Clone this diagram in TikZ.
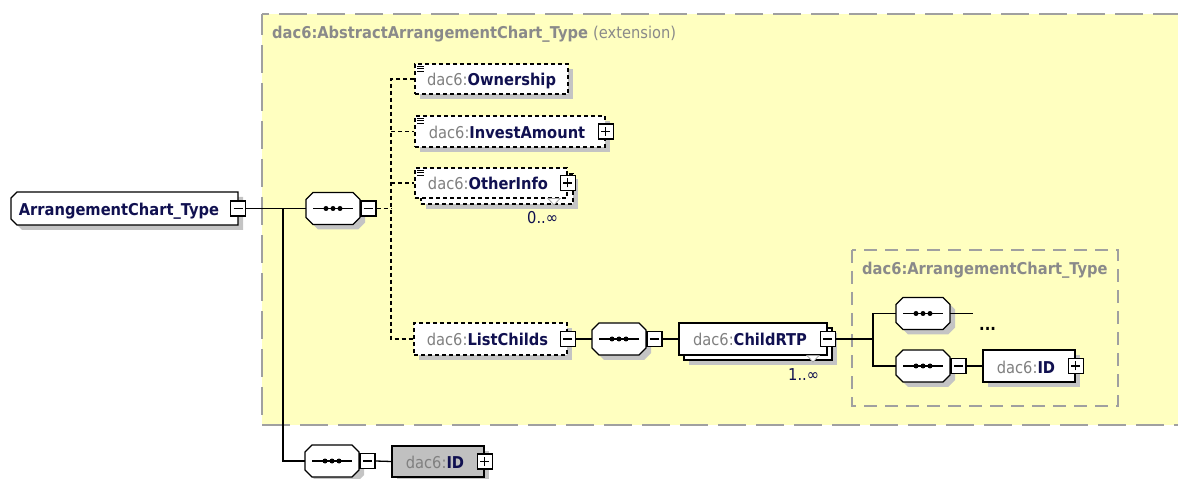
\documentclass[tikz,border=0pt]{standalone}
\usepackage{fontspec}
\setmainfont{DejaVu Sans}[FakeStretch=0.9]
\usetikzlibrary{shadows,calc}
\definecolor{yel}{HTML}{FFFFC0}
\definecolor{bordc}{HTML}{A0A0A0}
\definecolor{shadowc}{HTML}{C4C4C4}
\definecolor{prec}{HTML}{808080}
\definecolor{namec}{HTML}{101050}
\definecolor{titc}{HTML}{8A8A8A}
\definecolor{idgray}{HTML}{C0C0C0}
\newcommand\pre[1]{{\color{prec}#1}}
\newcommand\nm[1]{{\color{namec}\bfseries #1}}
\newcommand\seqnode[3]{%
  \begin{scope}[shift={(#2,#3)}]
    \fill[shadowc,shift={(5,5)}] (-20,-16) -- (20,-16) -- (27,-9) -- (27,9) -- (20,16) -- (-20,16) -- (-27,9) -- (-27,-9) -- cycle;
    \draw[fill=white,line width=1.3bp] (-20,-16) -- (20,-16) -- (27,-9) -- (27,9) -- (20,16) -- (-20,16) -- (-27,9) -- (-27,-9) -- cycle;
    \draw[line width=1.3bp] (-20,0) -- (20,0);
    \fill (-7,0) circle[radius=2.5bp] (0,0) circle[radius=2.5bp] (7,0) circle[radius=2.5bp];
    \node[seqbox] (#1) at (0,0) {};
  \end{scope}}
\begin{document}
\begin{tikzpicture}[x=1bp,y=-1bp,font=\fontsize{16.3bp}{19bp}\selectfont,
  elem/.style={rectangle, draw=black, fill=white, inner sep=0pt, line width=1.3bp, text height=14bp, text depth=0bp},
  shad/.style={general shadow={fill=shadowc, shadow xshift=5bp, shadow yshift=-5bp}},
  dsh/.style={dash pattern=on 4bp off 3bp},
  pmbox/.style={rectangle, draw=black, fill=white, line width=1.3bp, minimum size=15bp, inner sep=0pt},
  minusb/.style={pmbox, path picture={\draw[line width=1.3bp] ([xshift=-4.5bp]path picture bounding box.center) -- ([xshift=4.5bp]path picture bounding box.center);}},
  plusb/.style={pmbox, path picture={\draw[line width=1.3bp] ([xshift=-4.5bp]path picture bounding box.center) -- ([xshift=4.5bp]path picture bounding box.center) ([yshift=-4.5bp]path picture bounding box.center) -- ([yshift=4.5bp]path picture bounding box.center);}},
  seqbox/.style={rectangle, minimum width=54bp, minimum height=32bp, inner sep=0pt},
  conn/.style={line width=1.3bp, draw=black},
  lbl/.style={anchor=base west, inner sep=0pt},
  marker/.style={draw=gray!70, fill=white, line width=0.8bp}]
\useasboundingbox (0,0) rectangle (1178,479);
% extension area
\draw[draw=bordc, line width=2bp, dash pattern=on 28bp off 10bp, dash phase=7bp, fill=yel] (262,14) rectangle (1200,425);
\node[lbl] (t1) at (272,39) {\color{titc}\bfseries dac6:AbstractArrangementChart\_Type \mdseries(extension)};
\draw[draw=bordc, line width=1.5bp, dash pattern=on 13bp off 8bp] (852,250) rectangle (1118,406);
\node[lbl] (t2) at (862,275) {\color{titc}\bfseries dac6:ArrangementChart\_Type};
% root
\fill[shadowc,shift={(5,5)}] (17,192) -- (238,192) -- (238,225) -- (17,225) -- (11,219) -- (11,198) -- cycle;
\draw[fill=white,line width=1.3bp] (17,192) -- (238,192) -- (238,225) -- (17,225) -- (11,219) -- (11,198) -- cycle;
\node[rectangle, inner sep=0pt, minimum width=227bp, minimum height=33bp] (root) at (124.5,208.5) {};
\node[inner sep=0pt, text height=14bp, text depth=0bp] (rootlbl) at (119,208.5) {\nm{ArrangementChart\_Type}};
\node[minusb] (m0) at (root.east) {};
% sequences
\seqnode{s1}{333}{208.5}
\node[minusb, anchor=west] (m1) at (s1.east) {};
\seqnode{s2}{619}{339}
\node[minusb, anchor=west] (m2) at (s2.east) {};
\seqnode{s3}{923}{313.5}
\seqnode{s4}{923}{366}
\node[minusb, anchor=west] (m4) at (s4.east) {};
\seqnode{s5}{332}{461}
\node[minusb, anchor=west] (m5) at (s5.east) {};
% elements
\node[elem, dsh, shad, minimum width=153bp, minimum height=30bp] (own) at (491.5,79) {\pre{dac6:}\nm{Ownership}};
\node[elem, dsh, shad, minimum width=190bp, minimum height=31bp] (inv) at (510,131.5) {\pre{dac6:}\nm{InvestAmount}\hspace*{6bp}};
\node[plusb] (pinv) at (inv.east) {};
\node[elem, dsh, shad, minimum width=152bp, minimum height=30bp] (othb) at (497,189) {};
\node[elem, dsh, minimum width=152bp, minimum height=30bp] (oth) at (491,183) {\pre{dac6:}\nm{OtherInfo}\hspace*{6bp}};
\node[plusb] (poth) at (oth.east) {};
\draw[marker] (548,198.5) -- (560,198.5) -- (554,205) -- cycle;
\node[lbl, text=namec] (occ1) at (527,224) {0..∞};
\foreach \yy in {66,68.5,71}{\draw[line width=0.8bp] (417,\yy) -- ++(7,0);}
\foreach \yy in {118,120.5,123}{\draw[line width=0.8bp] (417,\yy) -- ++(7,0);}
\foreach \yy in {170,172.5,175}{\draw[line width=0.8bp] (417,\yy) -- ++(7,0);}
\node[elem, dsh, shad, minimum width=153bp, minimum height=32bp] (lc) at (490.5,339) {\pre{dac6:}\nm{ListChilds}\hspace*{6bp}};
\node[minusb] (mlc) at (lc.east) {};
\node[elem, shad, minimum width=148bp, minimum height=32bp] (crtpb) at (758,344) {};
\node[elem, minimum width=148bp, minimum height=32bp] (crtp) at (753,339) {\pre{dac6:}\nm{ChildRTP}\hspace*{6bp}};
\node[minusb] (mcr) at (crtp.east) {};
\draw[marker] (807,355.5) -- (819,355.5) -- (813,362) -- cycle;
\node[lbl, text=namec] (occ2) at (788,381) {1..∞};
\node[elem, shad, minimum width=92bp, minimum height=32bp] (id1) at (1029,366) {\pre{dac6:}\nm{ID}\hspace*{6bp}};
\node[plusb] (pid1) at (id1.east) {};
\node[elem, shad, fill=idgray, minimum width=92bp, minimum height=31bp] (id2) at (438,461.5) {\pre{dac6:}\nm{ID}\hspace*{6bp}};
\node[plusb] (pid2) at (id2.east) {};
\node[lbl] (dots) at (979,331) {\bfseries ...};
% connectors
\coordinate (j1) at (283,208.5);
\coordinate (j2) at (391,208.5);
\coordinate (j3) at (873,339);
\coordinate (e3) at (973,313.5);
\draw[conn] (m0.east) -- (s1.west);
\draw[conn] (j1) |- (s5.west);
\draw[conn, dsh] (m1.east) -- (j2);
\draw[conn, dsh] (own.west) -| (j2) |- (lc.west);
\draw[conn, dsh] (j2 |- inv.west) -- (inv.west);
\draw[conn, dsh] (j2 |- oth.west) -- (oth.west);
\draw[conn] (mlc.east) -- (s2.west);
\draw[conn] (m2.east) -- (crtp.west);
\draw[conn] (mcr.east) -- (j3);
\draw[conn] (s3.west) -| (j3) |- (s4.west);
\draw[conn] (s3.east) -- (e3);
\draw[conn] (m4.east) -- (id1.west);
\draw[conn] (m5.east) -- (id2.west);
\end{tikzpicture}
\end{document}
